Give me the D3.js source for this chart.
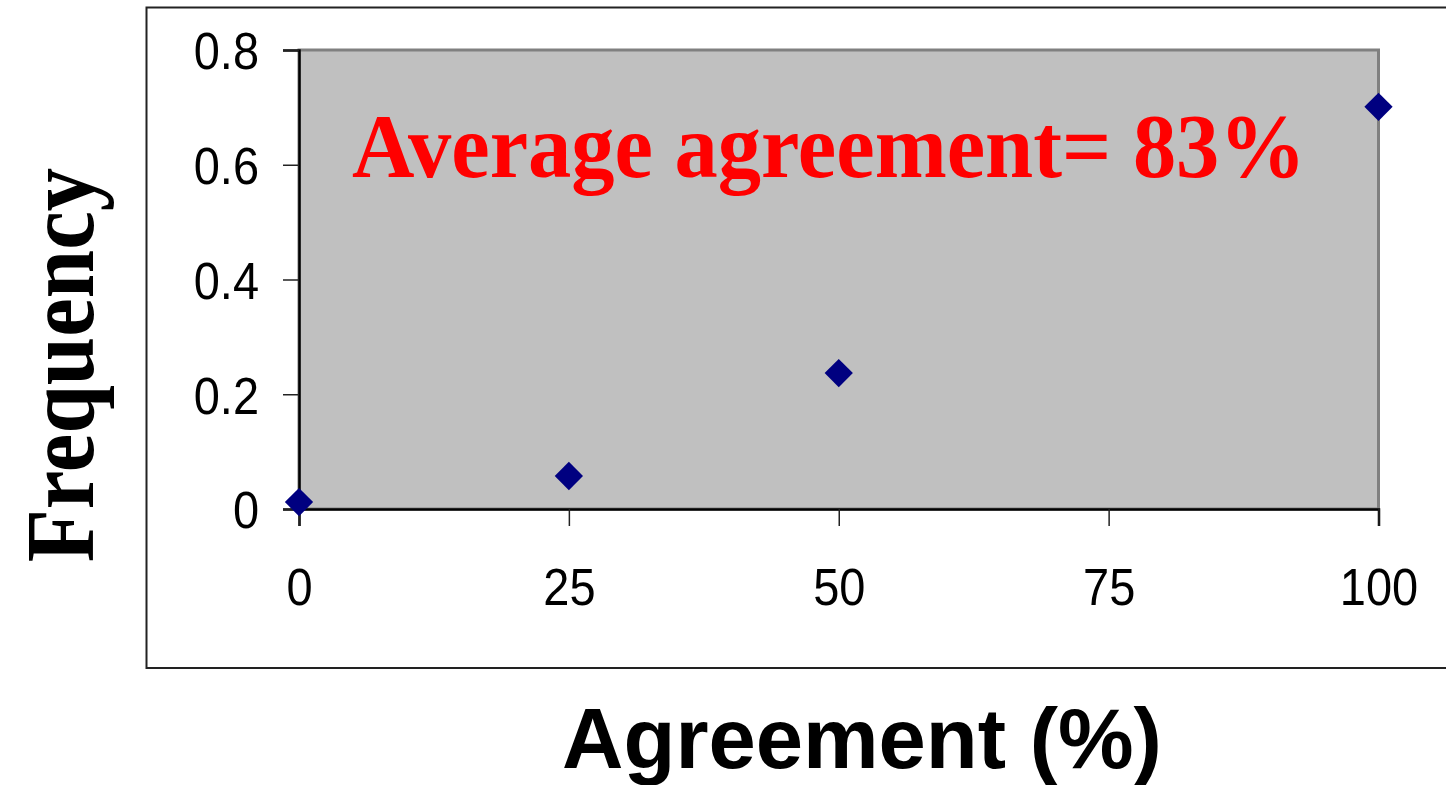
<!DOCTYPE html>
<html>
<head>
<meta charset="utf-8">
<script src="https://cdn.jsdelivr.net/npm/d3@7"></script>
<style>
  html, body { margin: 0; padding: 0; background: #fff; }
  svg { display: block; }
</style>
</head>
<body>
<svg id="chart" width="1446" height="785"></svg>
<script>
// Data
const agreement = [0, 25, 50, 100];
const frequency = [0.012, 0.0575, 0.237, 0.701];
const xTicks = [0, 25, 50, 75, 100];
const yTicks = [0, 0.2, 0.4, 0.6, 0.8];
const yTickLabels = ["0", "0.2", "0.4", "0.6", "0.8"];
const annotation = "Average agreement= 83%";
const xTitle = "Agreement (%)";
const yTitle = "Frequency";

(function () {
const svg = d3.select("#chart");

// outer chart frame
svg.append("rect")
  .attr("x", 146.5).attr("y", 7.5)
  .attr("width", 1400).attr("height", 660.5)
  .attr("fill", "#fff").attr("stroke", "#222").attr("stroke-width", 2);

const pLeft = 299, pRight = 1378.5, pTop = 50, pBottom = 509;
const x = d3.scaleLinear().domain([0, 100]).range([pLeft, pRight]);
const y = d3.scaleLinear().domain([0, 0.8]).range([pBottom, pTop]);

// plot area
svg.append("rect")
  .attr("x", pLeft).attr("y", pTop)
  .attr("width", pRight - pLeft).attr("height", pBottom - pTop)
  .attr("fill", "#c0c0c0").attr("stroke", "#808080").attr("stroke-width", 3);

const sY = 1.12;

// y axis
const yAxis = svg.append("g")
  .attr("transform", `translate(${pLeft},0)`)
  .call(d3.axisLeft(y).tickValues(yTicks)
    .tickFormat((d, i) => yTickLabels[i]).tickSize(16).tickPadding(24));
yAxis.select(".domain").attr("stroke", "#000").attr("stroke-width", 2.5);
yAxis.selectAll(".tick line").attr("stroke", "#222").attr("stroke-width", 1.5);
yAxis.selectAll(".tick text")
  .attr("font-family", "Liberation Sans, Arial, sans-serif")
  .attr("font-size", 47).attr("fill", "#000")
  .attr("dy", "0.36em")
  .attr("transform", `scale(1,${sY})`);

// x axis
const xAxis = svg.append("g")
  .attr("transform", `translate(0,${pBottom})`)
  .call(d3.axisBottom(x).tickValues(xTicks).tickFormat(d3.format("d"))
    .tickSize(17).tickPadding(46));
xAxis.select(".domain").attr("stroke", "#000").attr("stroke-width", 2.5);
xAxis.selectAll(".tick line").attr("stroke", "#222").attr("stroke-width", 1.5);
xAxis.selectAll(".tick text")
  .attr("font-family", "Liberation Sans, Arial, sans-serif")
  .attr("font-size", 47).attr("fill", "#000")
  .attr("y", 96 / sY).attr("dy", 0)
  .attr("transform", `scale(1,${sY})`);

// points (diamonds)
const diamond = d3.symbol().type(d3.symbolSquare).size(400);
svg.append("g").selectAll("path")
  .data(agreement.map((a, i) => ({a, f: frequency[i]})))
  .join("path")
  .attr("d", diamond)
  .attr("transform", d => `translate(${x(d.a)},${y(d.f)}) rotate(45)`)
  .attr("fill", "#000080");

// annotation
svg.append("text")
  .attr("transform", "translate(352,177) scale(1,1.04)")
  .attr("font-family", "Liberation Serif, Times New Roman, serif")
  .attr("font-weight", "bold").attr("font-size", 86.5)
  .attr("fill", "#ff0000")
  .text(annotation);

// x title
svg.append("text")
  .attr("x", 862).attr("y", 768)
  .attr("text-anchor", "middle")
  .attr("font-family", "Liberation Sans, Arial, sans-serif")
  .attr("font-weight", "bold").attr("font-size", 85)
  .attr("fill", "#000")
  .text(xTitle);

// y title
svg.append("text")
  .attr("transform", "translate(93,365) rotate(-90) scale(1,1.12)")
  .attr("text-anchor", "middle")
  .attr("font-family", "Liberation Serif, Times New Roman, serif")
  .attr("font-weight", "bold").attr("font-size", 87)
  .attr("fill", "#000")
  .text(yTitle);
})();
</script>
</body>
</html>
